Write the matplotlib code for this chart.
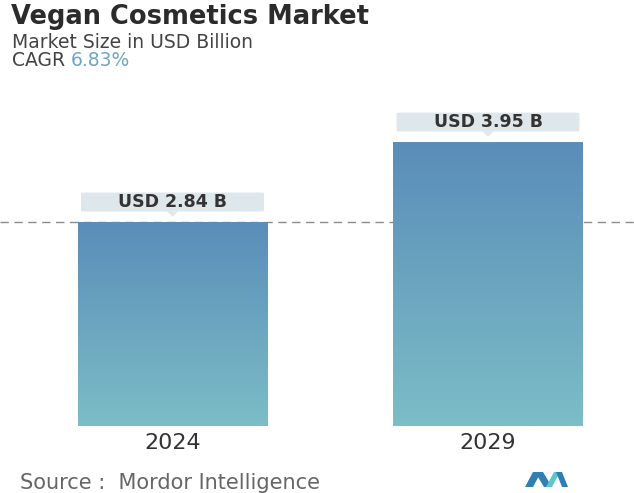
import numpy as np
import matplotlib.pyplot as plt
from matplotlib.patches import FancyBboxPatch, Polygon
from matplotlib.colors import LinearSegmentedColormap

plt.rcParams['font.family'] = ['DejaVu Sans']

years = ['2024', '2029']
market_size = [2.84, 3.95]
value_labels = ['USD 2.84 B', 'USD 3.95 B']
cagr = '6.83%'

W, H = 634, 493
fig = plt.figure(figsize=(W / 100, H / 100), dpi=100)
fig.patch.set_facecolor('white')


def fx(x):
    return x / W


def fy(y):
    return 1 - y / H


# header
fig.text(fx(11), fy(23.5), 'Vegan Cosmetics Market', fontsize=18.5, fontweight='bold',
         color='#2b2b2b', va='baseline', ha='left')
fig.text(fx(12), fy(48.5), 'Market Size in USD Billion', fontsize=13.5,
         color='#444444', va='baseline', ha='left')
t = fig.text(fx(12), fy(66), 'CAGR ', fontsize=13.5, color='#444444', va='baseline', ha='left')
fig.canvas.draw()
bb = t.get_window_extent()
fig.text(bb.x1 / W, fy(66), cagr, fontsize=13.5, color='#6fa6c2', va='baseline', ha='left')

# bars
ax = fig.add_axes([0, fy(426), 1, 326 / H])
px_per_unit = 72
ax.set_ylim(0, 326 / px_per_unit)
ax.set_xlim(-172.5 / 315.5, (W - 172.5) / 315.5)
x = np.arange(len(years))
bw = 0.6

cmap = LinearSegmentedColormap.from_list('bar', ['#7cbdc7', '#6ba5bf', '#5a8db9'])
grad = np.linspace(0, 1, 256).reshape(-1, 1)

ax.axhline(market_size[0], color='#8c8c8c', lw=1, ls=(0, (6, 4)), zorder=1)

bars = ax.bar(x, market_size, width=bw, color='none', edgecolor='none', zorder=2)
for b in bars:
    x0, w, h = b.get_x(), b.get_width(), b.get_height()
    im = ax.imshow(grad, cmap=cmap, origin='lower', aspect='auto',
                   extent=[x0, x0 + w, 0, h], zorder=2)
    im.set_clip_path(b)

# value boxes above the bars
gap = 10 / px_per_unit
box_h = 19 / px_per_unit
for xi, v, lab in zip(x, market_size, value_labels):
    box = FancyBboxPatch((xi - bw / 2 + 0.01, v + gap), bw - 0.02, box_h,
                         boxstyle='round,pad=0,rounding_size=0.025',
                         mutation_aspect=0.3, fc='#dee7eb', ec='none', zorder=3)
    ax.add_patch(box)
    tri = Polygon([[xi - 0.018, v + gap], [xi + 0.018, v + gap], [xi, v + gap - 5 / px_per_unit]],
                  closed=True, fc='#dee7eb', ec='none', zorder=3)
    ax.add_patch(tri)
    ax.text(xi, v + gap + box_h / 2, lab, ha='center', va='center', fontsize=12.5,
            fontweight='bold', color='#333333', zorder=4)

ax.set_xticks(x)
ax.set_xticklabels(years, fontsize=16, color='#333333')
ax.tick_params(axis='x', length=0, pad=5)
ax.set_yticks([])
for s in ax.spines.values():
    s.set_visible(False)

# footer
fig.text(fx(20), fy(489), 'Source :  Mordor Intelligence', fontsize=15,
         color='#666666', va='baseline', ha='left')


def logo_poly(pts, c):
    fig.patches.append(Polygon([[fx(a), fy(b)] for a, b in pts], closed=True,
                               transform=fig.transFigure, fc=c, ec='none'))


logo_poly([(525, 487), (533, 472), (541, 472), (533, 487)], '#2f7fb4')
logo_poly([(535, 472), (543, 472), (552, 487), (544, 487)], '#2f7fb4')
logo_poly([(546, 487), (554, 472), (560, 472), (552, 487)], '#5cc6c8')
logo_poly([(556, 472), (562, 472), (568, 487), (562, 487)], '#2f7fb4')

fig.savefig('out.png', dpi=100)
